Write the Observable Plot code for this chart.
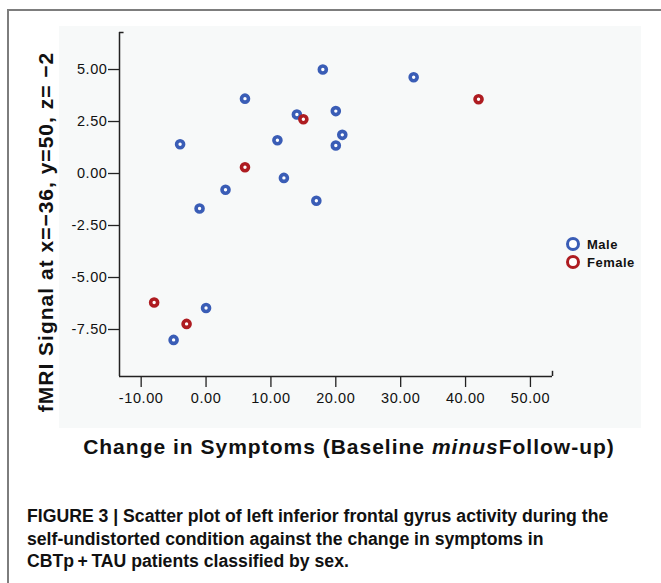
<!DOCTYPE html>
<html>
<head>
<meta charset="utf-8">
<script src="https://cdn.jsdelivr.net/npm/d3@7"></script>
<script src="https://cdn.jsdelivr.net/npm/@observablehq/plot@0.6"></script>
<style>
  html, body { margin: 0; padding: 0; background: #fff; width: 661px; height: 583px; overflow: hidden; }
  body { position: relative; font-family: "Liberation Sans", Arial, Helvetica, sans-serif; color: #111; }
  #frame { position: absolute; left: 7px; top: 9px; right: -5px; bottom: -20px; border-left: 2px solid #7d7d7d; border-top: 2px solid #7d7d7d; }
  #panel { position: absolute; left: 59px; top: 26px; width: 582px; height: 402px; background: #f7f9f9; }
  #chart { position: absolute; left: 0; top: 0; }
  #chart svg text { letter-spacing: 0.6px; }
  #ytitle { position: absolute; left: -154px; top: 220px; width: 400px; height: 24px; line-height: 24px; text-align: center;
            font-weight: bold; font-size: 21px; letter-spacing: 1px; transform: rotate(-90deg); transform-origin: 200px 12px; white-space: nowrap; }
  #xtitle { position: absolute; left: 49px; top: 435px; width: 600px; line-height: 24px; text-align: center;
            font-weight: bold; font-size: 21px; letter-spacing: 1px; white-space: nowrap; }
  #legend { position: absolute; left: 566px; top: 237px; font-weight: bold; font-size: 13px; letter-spacing: 0.5px; }
  .item { position: relative; height: 18px; line-height: 16px; }
  .sw { position: absolute; left: 0px; top: 0px; width: 8px; height: 8px; border-radius: 50%; border: 3px solid; background: #fff; }
  .lab { position: absolute; left: 21px; top: 0px; white-space: nowrap; }
  #caption { position: absolute; left: 27px; top: 505px; font-family: "Liberation Sans", Arial, sans-serif;
             font-weight: bold; font-size: 17.5px; line-height: 22.5px; white-space: nowrap; color: #111; transform-origin: 0 0; }
  #caption span { display: inline-block; }
</style>
</head>
<body>
<div id="frame"></div>
<div id="panel"></div>
<div id="chart"></div>
<div id="ytitle">fMRI Signal at x=−36, y=50, z= −2</div>
<div id="xtitle">Change in Symptoms (Baseline <i>minus</i>Follow-up)</div>
<div id="legend"></div>
<div id="caption"><span id="cap1">FIGURE 3 | Scatter plot of left inferior frontal gyrus activity during the</span><br><span>self-undistorted condition against the change in symptoms in</span><br><span>CBTp&#8201;+&#8201;TAU patients classified by sex.</span></div>
<script>
// ---- data ----
const xTicks = [-10, 0, 10, 20, 30, 40, 50];
const yTicks = [-7.5, -5, -2.5, 0, 2.5, 5];
const xDomain = [-13.34, 53.4];
const yDomain = [-9.76, 6.78];

const maleX = [18, 32, 6, 14, 20, 21, 20, 11, -4, 12, 3, -1, 17, 0, -5];
const maleY = [5.0, 4.63, 3.6, 2.84, 3.0, 1.86, 1.35, 1.6, 1.41, -0.21, -0.78, -1.68, -1.31, -6.47, -8.0];
const femaleX = [42, 15, 6, -8, -3];
const femaleY = [3.57, 2.61, 0.3, -6.2, -7.23];

const sexes = ["Male", "Female"];
const sexColors = ["#3a5db6", "#ae1c21"];

const male = maleX.map((x, i) => ({x, y: maleY[i], sex: "Male"}));
const female = femaleX.map((x, i) => ({x, y: femaleY[i], sex: "Female"}));

const fmt = d => d.toFixed(2);
const axisStroke = "#222";

const chart = Plot.plot({
  width: 661,
  height: 430,
  marginLeft: 119,
  marginRight: 109,
  marginTop: 32,
  marginBottom: 54,
  style: {background: "transparent", fontFamily: "'Liberation Sans', Arial, sans-serif", fontSize: "14.5px", color: "#111", overflow: "visible"},
  x: {domain: xDomain},
  y: {domain: yDomain},
  color: {domain: sexes, range: sexColors},
  marks: [
    Plot.axisX({ticks: xTicks, tickFormat: fmt, tickSize: 11, tickPadding: 5, strokeWidth: 1.3, stroke: axisStroke, label: null}),
    Plot.axisY({ticks: yTicks, tickFormat: fmt, tickSize: 11, tickPadding: 1, strokeWidth: 1.3, stroke: axisStroke, label: null}),
    Plot.ruleX([xDomain[0]], {y1: yDomain[0], y2: yDomain[1], stroke: axisStroke, strokeWidth: 1.5}),
    Plot.ruleY([yDomain[0]], {x1: xDomain[0], x2: xDomain[1], stroke: axisStroke, strokeWidth: 1.5}),
    Plot.ruleY([yDomain[1]], {x1: xDomain[0], x2: xDomain[0] + 0.7, stroke: axisStroke, strokeWidth: 1.5}),
    Plot.ruleX([xDomain[1]], {y1: yDomain[0], y2: yDomain[0] + 0.25, stroke: axisStroke, strokeWidth: 1.5}),
    Plot.dot(male, {x: "x", y: "y", r: 3.5, stroke: "sex", strokeWidth: 3.6, fill: "white"}),
    Plot.dot(female, {x: "x", y: "y", r: 3.5, stroke: "sex", strokeWidth: 3.6, fill: "white"})
  ]
});
document.getElementById("chart").appendChild(chart);

// legend
const legend = document.getElementById("legend");
sexes.forEach((s, i) => {
  const item = document.createElement("div");
  item.className = "item";
  const sw = document.createElement("div");
  sw.className = "sw";
  sw.style.borderColor = sexColors[i];
  const lab = document.createElement("div");
  lab.className = "lab";
  lab.textContent = s;
  item.appendChild(sw);
  item.appendChild(lab);
  legend.appendChild(item);
});

// condense the caption horizontally so its first line spans the reference width
const cap = document.getElementById("caption");
const cap1 = document.getElementById("cap1");
const targetW = 581;
const w = cap1.getBoundingClientRect().width;
const sx = Math.max(0.7, Math.min(1.1, targetW / w));
cap.style.transform = "scaleX(" + sx.toFixed(3) + ")";
</script>
</body>
</html>
